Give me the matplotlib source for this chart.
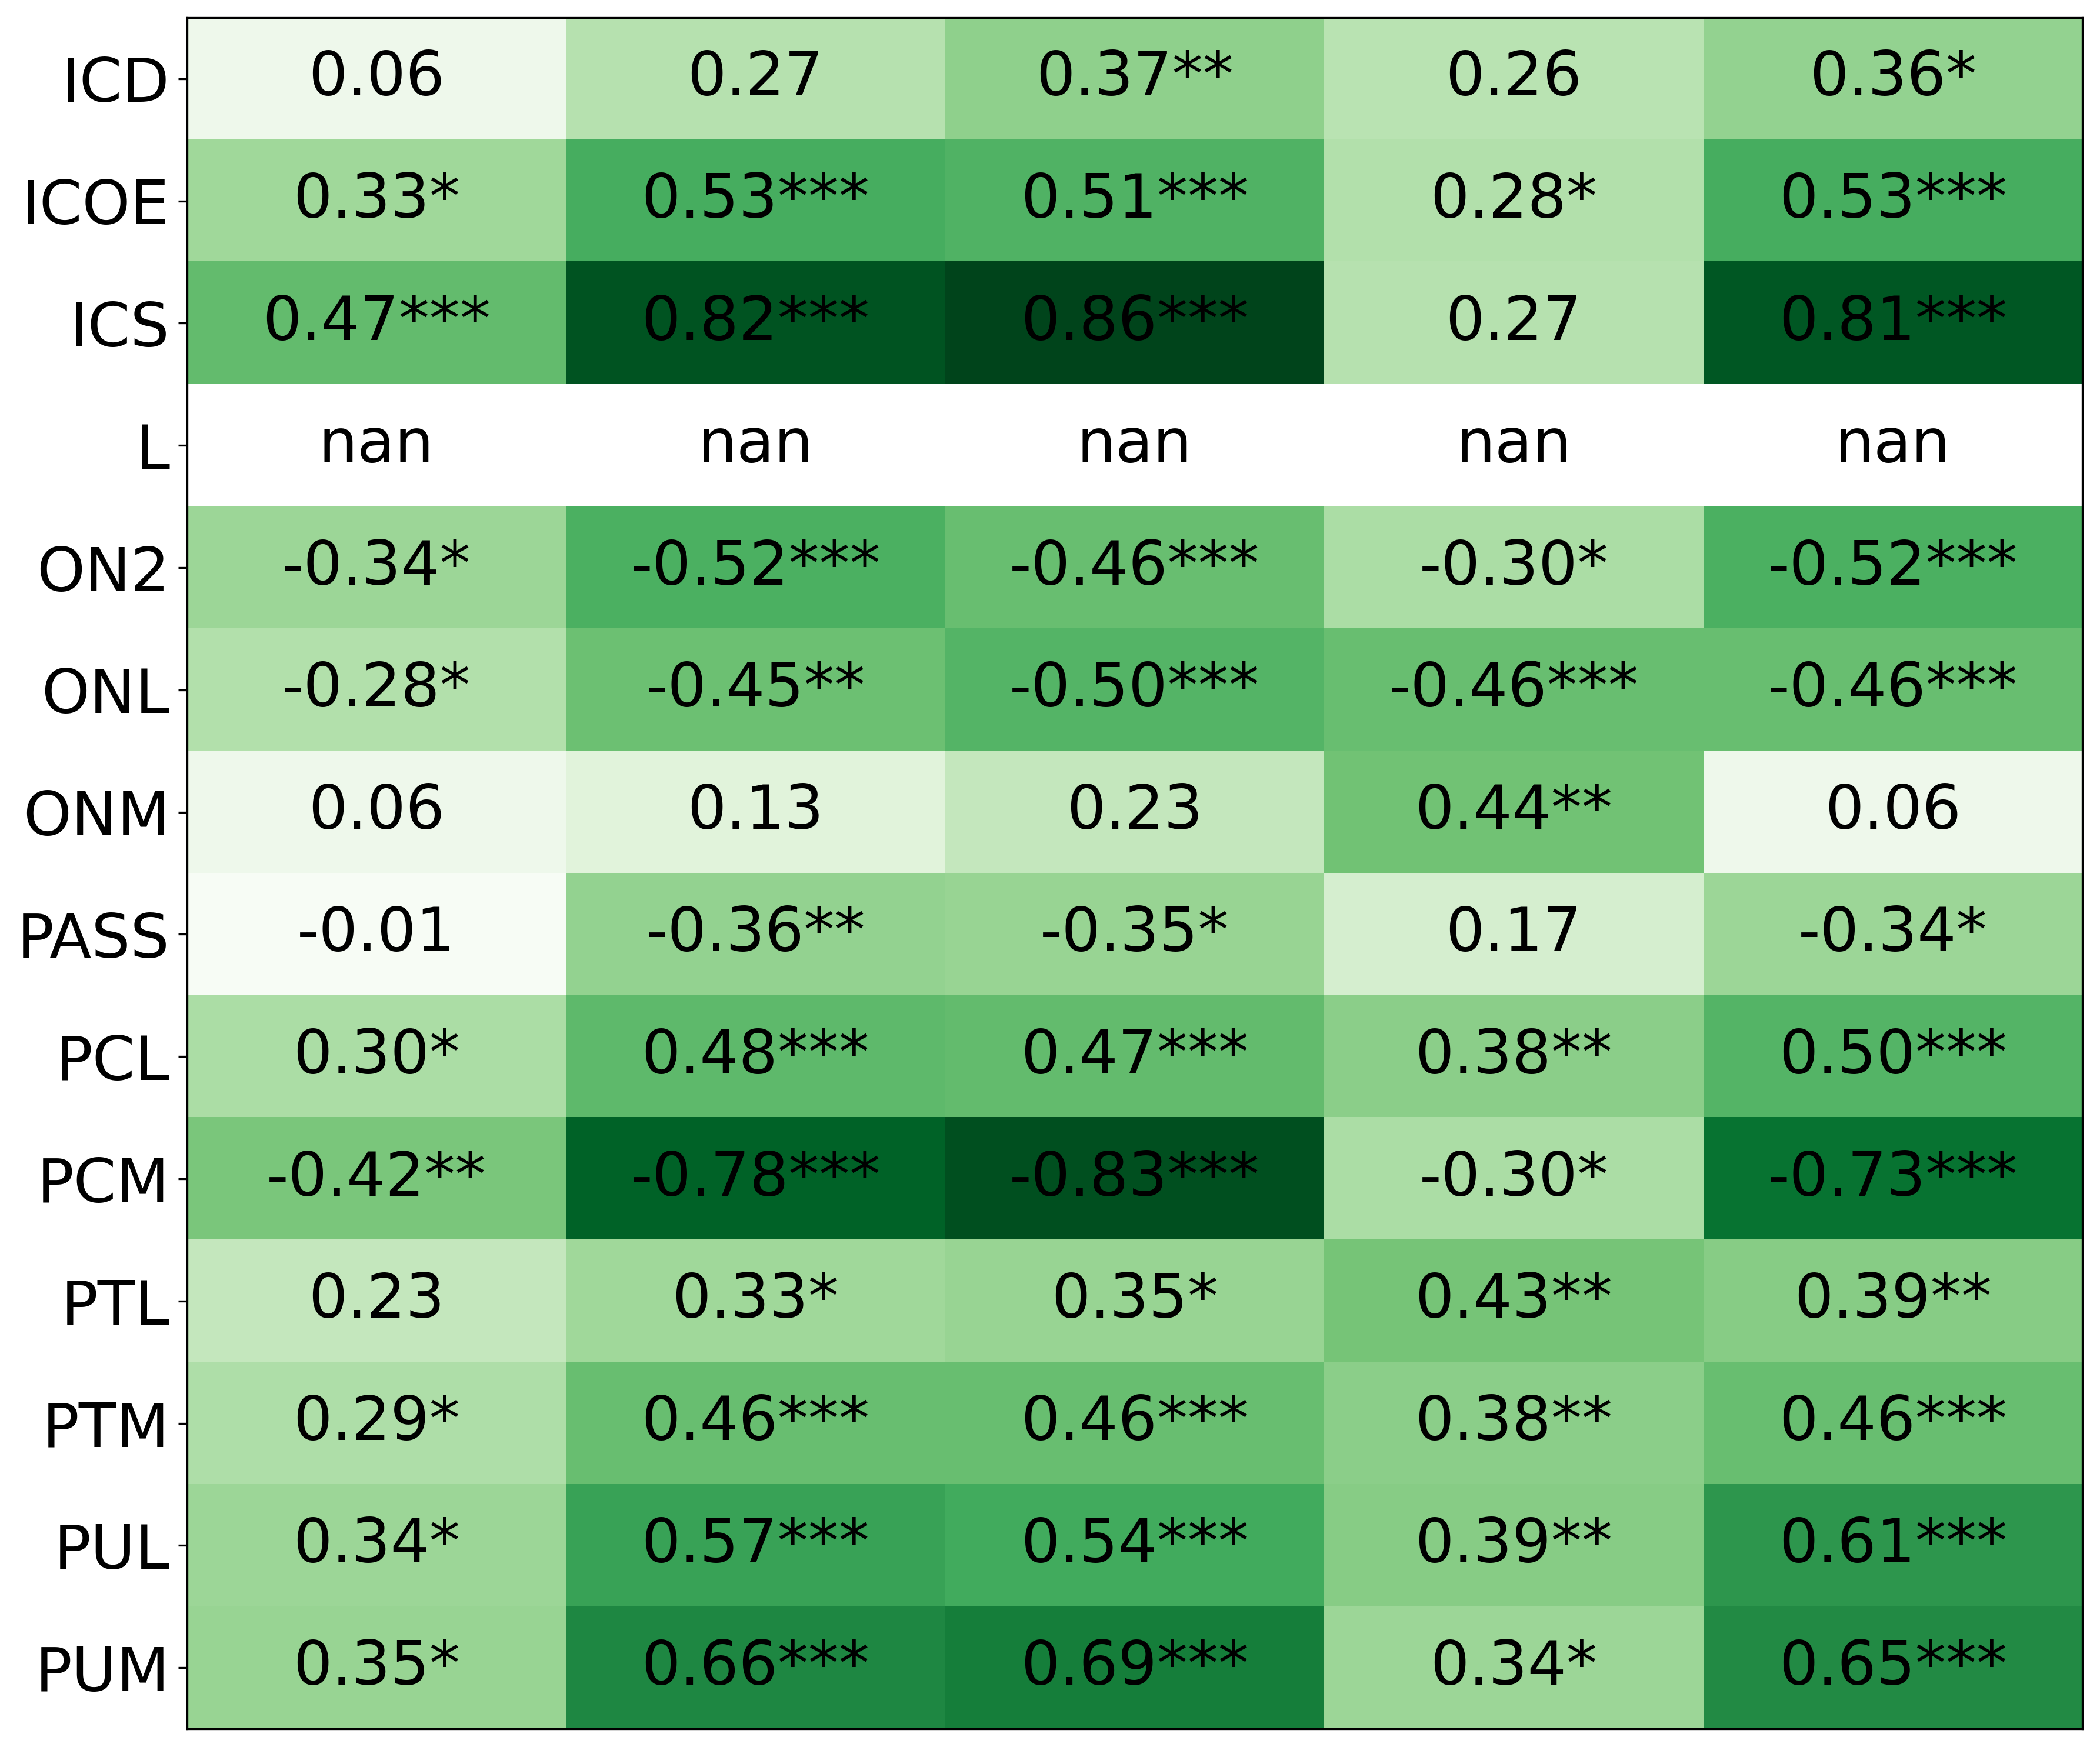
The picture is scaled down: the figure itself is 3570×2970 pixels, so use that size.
import numpy as np
import matplotlib
matplotlib.use("Agg")
import matplotlib.pyplot as plt

# row labels (top to bottom)
rows = ['ICD', 'ICOE', 'ICS', 'L', 'ON2', 'ONL', 'ONM', 'PASS',
        'PCL', 'PCM', 'PTL', 'PTM', 'PUL', 'PUM']

# correlation values, one list per column
col1 = [0.06, 0.33, 0.47, np.nan, -0.34, -0.28, 0.06, -0.01, 0.30, -0.42, 0.23, 0.29, 0.34, 0.35]
col2 = [0.27, 0.53, 0.82, np.nan, -0.52, -0.45, 0.13, -0.36, 0.48, -0.78, 0.33, 0.46, 0.57, 0.66]
col3 = [0.37, 0.51, 0.86, np.nan, -0.46, -0.50, 0.23, -0.35, 0.47, -0.83, 0.35, 0.46, 0.54, 0.69]
col4 = [0.26, 0.28, 0.27, np.nan, -0.30, -0.46, 0.44, 0.17, 0.38, -0.30, 0.43, 0.38, 0.39, 0.34]
col5 = [0.36, 0.53, 0.81, np.nan, -0.52, -0.46, 0.06, -0.34, 0.50, -0.73, 0.39, 0.46, 0.61, 0.65]

# significance stars
stars1 = ['', '*', '***', '', '*', '*', '', '', '*', '**', '', '*', '*', '*']
stars2 = ['', '***', '***', '', '***', '**', '', '**', '***', '***', '*', '***', '***', '***']
stars3 = ['**', '***', '***', '', '***', '***', '', '*', '***', '***', '*', '***', '***', '***']
stars4 = ['', '*', '', '', '*', '***', '**', '', '**', '*', '**', '**', '**', '*']
stars5 = ['*', '***', '***', '', '***', '***', '', '*', '***', '***', '**', '***', '***', '***']

vals = np.array([col1, col2, col3, col4, col5]).T
stars = np.array([stars1, stars2, stars3, stars4, stars5]).T

fig = plt.figure(figsize=(11.9, 9.9), dpi=300)
ax = fig.add_axes([0.089, 0.0104, 0.9026, 0.9795])

cmap = plt.get_cmap('Greens').copy()
cmap.set_bad('white')
ax.imshow(np.ma.masked_invalid(np.abs(vals)), cmap=cmap, aspect='auto',
          interpolation='nearest')

for i in range(vals.shape[0]):
    for j in range(vals.shape[1]):
        v = vals[i, j]
        txt = 'nan' if np.isnan(v) else f'{v:.2f}{stars[i, j]}'
        ax.text(j, i, txt, ha='center', va='center', fontsize=25, color='black')

ax.set_xticks([])
ax.set_yticks(range(len(rows)))
ax.set_yticklabels(rows, fontsize=25)

fig.savefig('out.png', dpi=300)
